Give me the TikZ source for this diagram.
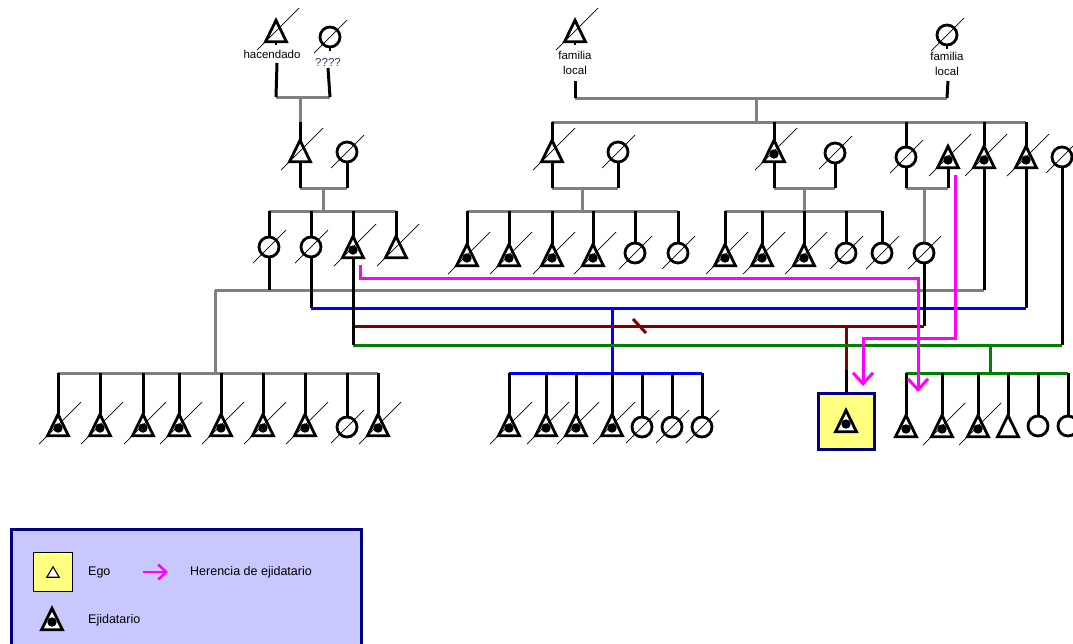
\documentclass[tikz,border=0pt]{standalone}
\usepackage{fontspec}
\setmainfont{Liberation Sans}
\usetikzlibrary{calc,arrows.meta}
\definecolor{kgray}{RGB}{128,128,128}
\definecolor{kblue}{RGB}{0,0,255}
\definecolor{kred}{RGB}{128,0,0}
\definecolor{kgreen}{RGB}{0,128,0}
\definecolor{kmag}{RGB}{255,0,255}
\definecolor{knavy}{RGB}{0,0,128}
\definecolor{kyellow}{RGB}{255,255,128}
\definecolor{klav}{RGB}{200,200,255}
\definecolor{kq}{RGB}{50,50,90}
\pgfdeclarelayer{bgl}
\pgfdeclarelayer{indl}
\pgfdeclarelayer{topl}
\pgfsetlayers{bgl,indl,main,topl}
\tikzset{
  ind/.style={line width=3pt,black},
  grl/.style={line width=3pt,kgray},
  bll/.style={line width=3pt,kblue},
  rdl/.style={line width=3pt,kred},
  gnl/.style={line width=3pt,kgreen},
  symline/.style={line width=2.8pt,line join=miter,black,fill=white},
  tribox/.style={rectangle,draw=none,minimum width=20.5pt,minimum height=21pt,inner sep=0pt},
  circ/.style={circle,draw,line width=2.8pt,minimum size=20pt,inner sep=0pt,fill=white},
  slashl/.style={line width=0.7pt,black},
  lbl/.style={font=\fontsize{11.5}{15}\selectfont,inner sep=0pt,align=center},
  legtxt/.style={font=\fontsize{12.5}{15}\selectfont,inner sep=0pt,anchor=west},
  inh/.style={line width=3pt,kmag,line join=miter,-{Straight Barb[length=11pt,width=20pt]}},
  inhs/.style={line width=2.5pt,kmag,-{Straight Barb[length=8pt,width=15pt]}},
  egobox/.style={rectangle,draw=knavy,fill=kyellow,line width=3pt,minimum width=56pt,minimum height=56pt,inner sep=0pt},
  legbox/.style={rectangle,draw=knavy,fill=klav,line width=3pt,minimum width=350pt,minimum height=135pt,inner sep=0pt,anchor=north west},
  legego/.style={rectangle,draw=black,fill=kyellow,line width=1pt,minimum size=39pt,inner sep=0pt},
  smalltri/.style={rectangle,draw=none,minimum width=12pt,minimum height=10pt,inner sep=0pt}
}
\newcommand\PTri[3]{\node[tribox] (#1) at (#2,#3) {};\filldraw[symline] (#1.north) -- (#1.south east) -- (#1.south west) -- cycle;}
\newcommand\PEji[3]{\PTri{#1}{#2}{#3}\fill ($(#1.center)+(0,3)$) circle (4.7pt);}
\newcommand\PCir[3]{\node[circ] (#1) at (#2,#3) {};}
\newcommand\Sl[1]{\begin{pgfonlayer}{topl}\draw[slashl] ($(#1.center)+(-19,19)$) -- ($(#1.center)+(23,-23)$);\end{pgfonlayer}}
\newcommand\Slc[1]{\begin{pgfonlayer}{topl}\draw[slashl] ($(#1.center)+(-16,16)$) -- ($(#1.center)+(17,-17)$);\end{pgfonlayer}}
\begin{document}
\begin{tikzpicture}[x=1pt,y=-1pt]
\useasboundingbox (0,0) rectangle (1073,643);
% level coordinates
\coordinate (y97) at (0,97);
\coordinate (y98) at (0,98);
\coordinate (y122) at (0,122);
\coordinate (y188) at (0,188);
\coordinate (y211) at (0,211);
\coordinate (y278) at (0,278);
\coordinate (y290) at (0,290);
\coordinate (y308) at (0,308);
\coordinate (y326) at (0,326);
\coordinate (y338) at (0,338);
\coordinate (y345) at (0,345);
\coordinate (y370) at (0,370);
\coordinate (y373) at (0,373);
% ===== generation 0
\PTri{H}{276}{31}\Sl{H}
\PCir{HW}{330}{37}\Slc{HW}
\PTri{FA}{575}{31}\Sl{FA}
\PCir{FB}{947}{35}\Slc{FB}
\draw[ind,line width=2pt] (H.south) -- ++(0,3);
\draw[ind,line width=2pt] (HW.south) -- ++(0,3);
\draw[ind,line width=2pt] (FA.south) -- ++(0,3);
\draw[ind,line width=2pt] (FB.south) -- ++(0,3);
\node[lbl] (Hl) at (272,54) {hacendado};
\node[lbl,text=kq] (HWl) at (328,62) {????};
\node[lbl] (FAl) at (575,63) {familia\\local};
\node[lbl] (FBl) at (947,64) {familia\\local};
\coordinate (Hs) at (277,63);
\coordinate (HWs) at (328,68);
\coordinate (FAs) at (575,81);
\coordinate (FBs) at (948,81);
% ===== generation 1
\PTri{A1}{300}{151}\Sl{A1}
\PCir{A2}{347}{152}\Slc{A2}
\PTri{B1}{552}{151}\Sl{B1}
\PCir{B2}{618}{152}\Slc{B2}
\PEji{C1}{774}{151}\Sl{C1}
\PCir{C2}{835}{153}\Slc{C2}
\PCir{D1}{906}{157}\Slc{D1}
\PEji{D2}{948}{157}\Sl{D2}
\PEji{D3}{984}{157}\Sl{D3}
\PEji{D4}{1026}{157}\Sl{D4}
\PCir{D5}{1062}{157}\Slc{D5}
% ===== generation 2
\PCir{a1}{269}{247}\Slc{a1}
\PCir{a2}{311}{247}\Slc{a2}
\PEji{a3}{353}{247}\Sl{a3}
\PTri{a4}{396}{247}\Sl{a4}
\PEji{b1}{467}{255}\Sl{b1}
\PEji{b2}{509}{255}\Sl{b2}
\PEji{b3}{552}{255}\Sl{b3}
\PEji{b4}{593}{255}\Sl{b4}
\PCir{b5}{635}{253}\Slc{b5}
\PCir{b6}{678}{253}\Slc{b6}
\PEji{c1}{725}{255}\Sl{c1}
\PEji{c2}{762}{255}\Sl{c2}
\PEji{c3}{804}{255}\Sl{c3}
\PCir{c4}{846}{253}\Slc{c4}
\PCir{c5}{882}{253}\Slc{c5}
\PCir{d1}{924}{253}\Slc{d1}
% ===== generation 3
\PEji{e1}{58}{425}\Sl{e1}
\PEji{e2}{100}{425}\Sl{e2}
\PEji{e3}{143}{425}\Sl{e3}
\PEji{e4}{179}{425}\Sl{e4}
\PEji{e5}{221}{425}\Sl{e5}
\PEji{e6}{263}{425}\Sl{e6}
\PEji{e7}{305}{425}\Sl{e7}
\PCir{e8}{347}{427}\Slc{e8}
\PEji{e9}{378}{425}\Sl{e9}
\PEji{f1}{509}{425}\Sl{f1}
\PEji{f2}{546}{425}\Sl{f2}
\PEji{f3}{576}{425}\Sl{f3}
\PEji{f4}{612}{425}\Sl{f4}
\PCir{f5}{642}{427}\Slc{f5}
\PCir{f6}{672}{427}\Slc{f6}
\PCir{f7}{702}{427}\Slc{f7}
\node[egobox] (ego) at (846,421) {};
\PEji{egoi}{846}{421}
\PEji{g1}{906}{426}
\PEji{g2}{942}{426}\Sl{g2}
\PEji{g3}{978}{426}\Sl{g3}
\PTri{g4}{1008}{426}
\PCir{g5}{1038}{426}
\PCir{g6}{1068}{426}
% ===== relationship lines
\begin{pgfonlayer}{bgl}
\draw[grl] (H |- y97) -- (HW |- y97);
\draw[grl] (A1 |- y97) -- (A1 |- y122);
\coordinate (dF) at (756,98);
\draw[grl] (FA |- y98) -- (FB |- y98);
\draw[grl] (dF) -- (dF |- y122);
\draw[grl] (B1 |- y122) -- (D4 |- y122);
\draw[grl] (A1 |- y188) -- (A2 |- y188);
\coordinate (dA) at (323,188);
\draw[grl] (dA) -- (dA |- y211);
\draw[grl] (a1 |- y211) -- (a4 |- y211);
\draw[grl] (B1 |- y188) -- (B2 |- y188);
\coordinate (dB) at (582,188);
\draw[grl] (dB) -- (dB |- y211);
\draw[grl] (b1 |- y211) -- (b6 |- y211);
\draw[grl] (C1 |- y188) -- (C2 |- y188);
\coordinate (dC) at (804,188);
\draw[grl] (dC) -- (dC |- y211);
\draw[grl] (c1 |- y211) -- (c5 |- y211);
\draw[grl] (D1 |- y188) -- (D2 |- y188);
\draw[grl] (d1 |- y188) -- (d1.north);
\coordinate (dG) at (215,290);
\draw[grl] (dG) -- (D3 |- y290);
\draw[grl] (dG) -- (dG |- y373);
\draw[grl] (e1 |- y373) -- (e9 |- y373);
\draw[bll] (a2 |- y308) -- (D4 |- y308);
\coordinate (dBl) at (612,308);
\draw[bll] (dBl) -- (dBl |- y373);
\draw[bll] (f1 |- y373) -- (f7 |- y373);
\draw[rdl] (a3 |- y326) -- (d1 |- y326);
\coordinate (dR) at (846,326);
\draw[rdl] (dR) -- (dR |- y370);
\draw[rdl] (633,319) -- (646,333);
\draw[gnl] (a3 |- y345) -- (D5 |- y345);
\coordinate (dGn) at (990,345);
\draw[gnl] (dGn) -- (dGn |- y373);
\draw[gnl] (g1 |- y373) -- (g6 |- y373);
\end{pgfonlayer}
% ===== individual lines
\begin{pgfonlayer}{indl}
\draw[ind] (Hs) -- (H |- y97);
\draw[ind] (HWs) -- (HW |- y97);
\draw[ind] (FAs) -- (FA |- y98);
\draw[ind] (FBs) -- (FB |- y98);
\draw[ind] (A1 |- y122) -- (A1.north);
\foreach \n in {B1,C1,D1,D3,D4}{\draw[ind] (\n |- y122) -- (\n.north);}
\foreach \n in {A1,A2,B1,B2,C1,C2,D1,D2}{\draw[ind] (\n.south) -- (\n |- y188);}
\foreach \n in {a1,a2,a3,a4,b1,b2,b3,b4,b5,b6,c1,c2,c3,c4,c5}{\draw[ind] (\n |- y211) -- (\n.north);}
\draw[ind] (a1.south) -- (a1 |- y290);
\draw[ind] (D3.south) -- (D3 |- y290);
\draw[ind] (a2.south) -- (a2 |- y308);
\draw[ind] (D4.south) -- (D4 |- y308);
\draw[ind] (a3.south) -- (a3 |- y345);
\draw[ind] (d1.south) -- (d1 |- y326);
\draw[ind] (D5.south) -- (D5 |- y345);
\draw[ind] (dR |- y370) -- (ego.north);
\foreach \n in {e1,e2,e3,e4,e5,e6,e7,e8,e9,f1,f2,f3,f4,f5,f6,f7,g1,g2,g3,g4,g5,g6}{\draw[ind] (\n |- y373) -- (\n.north);}
\end{pgfonlayer}
% ===== inheritance arrows
\coordinate (m1s) at (360,265);
\coordinate (m1e) at (918,392);
\coordinate (m2s) at (955,175);
\coordinate (m2e) at (863,386);
\begin{pgfonlayer}{topl}
\draw[inh] (m1s) -- (m1s |- y278) -- (m1e |- y278) -- (m1e);
\draw[inh] (m2s) -- (m2s |- y338) -- (m2e |- y338) -- (m2e);
\end{pgfonlayer}
% ===== legend
\node[legbox] (leg) at (10,528) {};
\node[legego] (lego) at (52.5,571.5) {};
\node[smalltri] (legot) at (53,572) {};
\draw[line width=1.1pt,black,fill=white,line join=miter] (legot.north) -- (legot.south east) -- (legot.south west) -- cycle;
\node[legtxt] (legotx) at (88,572) {Ego};
\coordinate (lara) at (143,572);
\coordinate (larb) at (168,572);
\draw[inhs] (lara) -- (larb);
\node[legtxt] (legitx) at (190,572) {Herencia de ejidatario};
\PEji{lege}{52}{619}
\node[legtxt] (legetx) at (88,620) {Ejidatario};
\end{tikzpicture}
\end{document}
